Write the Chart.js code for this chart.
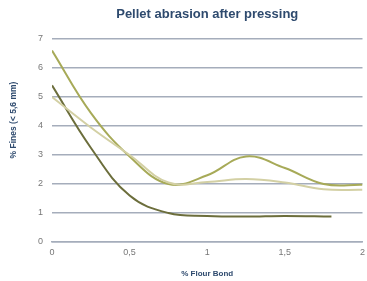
<!DOCTYPE html>
<html>
<head>
<meta charset="utf-8">
<script src="https://cdn.jsdelivr.net/npm/chart.js@4/dist/chart.umd.min.js"></script>
<style>
  html, body { margin: 0; padding: 0; background: #fff; }
  #wrap { width: 367px; height: 281px; }
</style>
</head>
<body>
<div id="wrap"><canvas id="myChart" width="367" height="281"></canvas></div>
<script>
// % flour bond on x, % fines (< 5,6 mm) on y
let xValues = [0, 0.25, 0.5, 0.75, 1, 1.25, 1.5, 1.75, 2];
let darkSeries = [5.4, 3.25, 1.6, 1.0, 0.9, 0.88, 0.9, 0.88, null];
let midSeries = [6.6, 4.45, 2.95, 2.0, 2.3, 2.95, 2.55, 2.0, 1.97];
let lightSeries = [5.0, 3.95, 3.0, 2.05, 2.07, 2.17, 2.05, 1.82, 1.8];
let yTicks = [0, 1, 2, 3, 4, 5, 6, 7];
let chartTitle = 'Pellet abrasion after pressing';
let yTitle = '% Fines (< 5,6 mm)';

function points(vals) {
  let out = [];
  for (let i = 0; i < xValues.length; i++) {
    if (vals[i] !== null) out.push({x: xValues[i], y: vals[i]});
  }
  return out;
}

// dark line ends a bit before 1.75
let darkPts = points(darkSeries);
darkPts[darkPts.length - 1].x = 1.8;

// title is centred over the plot, y title a bit above the middle: draw both ourselves
const titlesPlugin = {
  id: 'titles',
  afterDraw(chart) {
    let c = chart.ctx;
    let area = chart.chartArea;
    c.save();
    c.fillStyle = '#2e4a6e';
    c.textAlign = 'center';
    c.textBaseline = 'middle';
    c.font = 'bold 13px "Liberation Sans"';
    c.fillText(chartTitle, (area.left + area.right) / 2, 14);
    c.translate(14, 120);
    c.rotate(-Math.PI / 2);
    c.font = 'bold 8.5px "Liberation Sans"';
    c.fillText(yTitle, 0, 0);
    c.restore();
  }
};

var ctx = document.getElementById("myChart").getContext('2d');
var chart = new Chart(ctx, {
  type: 'line',
  data: {
    datasets: [{
      label: "light",
      data: points(lightSeries),
      borderColor: '#d3d0a4',
      borderWidth: 2,
      pointRadius: 0,
      tension: 0.4,
      fill: false
    }, {
      label: "mid",
      data: points(midSeries),
      borderColor: '#a7aa58',
      borderWidth: 2,
      pointRadius: 0,
      tension: 0.4,
      fill: false
    }, {
      label: "dark",
      data: darkPts,
      borderColor: '#6c6e3c',
      borderWidth: 2,
      pointRadius: 0,
      tension: 0.4,
      fill: false
    }]
  },
  plugins: [titlesPlugin],
  options: {
    responsive: false,
    animation: false,
    layout: { padding: { top: 39, right: 4, bottom: 2, left: 4 } },
    plugins: {
      legend: { display: false },
      tooltip: { enabled: false },
      title: { display: false }
    },
    scales: {
      x: {
        type: 'linear',
        min: 0,
        max: 2,
        ticks: {
          stepSize: 0.5,
          color: '#777',
          font: { family: 'Liberation Sans', size: 9 },
          padding: 2,
          callback: (v) => String(v).replace('.', ',')
        },
        grid: { display: false, drawTicks: true, tickLength: 3, tickColor: '#a5adbb' },
        border: { display: true, color: '#a5adbb', width: 1.5 },
        title: {
          display: true,
          text: '% Flour Bond',
          color: '#2e4a6e',
          font: { family: 'Liberation Sans', size: 8, weight: 'bold' },
          padding: { top: 4, bottom: 0 }
        },
        afterFit: (scale) => { scale.height = 37; }
      },
      y: {
        min: 0,
        max: 7,
        afterBuildTicks: (scale) => { scale.ticks = yTicks.map(v => ({value: v})); },
        ticks: {
          color: '#777',
          font: { family: 'Liberation Sans', size: 9 },
          padding: 9
        },
        grid: { color: '#a5adbb', lineWidth: 1.5, drawTicks: false },
        border: { display: false },
        title: { display: false },
        afterFit: (scale) => { scale.width = 48; }
      }
    }
  }
});
</script>
</body>
</html>
